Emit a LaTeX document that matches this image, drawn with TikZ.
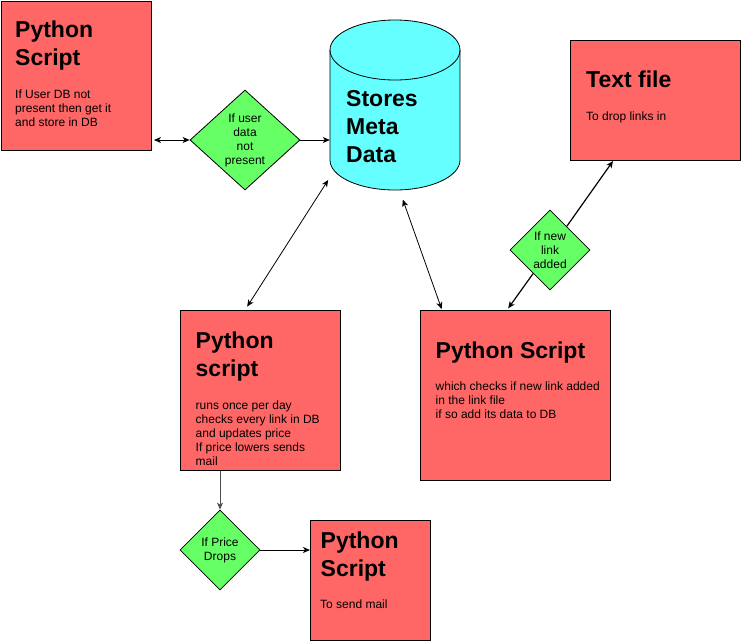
\documentclass[tikz,border=0pt]{standalone}
\usepackage{fontspec}
\setmainfont{Liberation Sans}
\usetikzlibrary{arrows.meta,shapes.geometric,positioning}
\definecolor{boxred}{HTML}{FF6666}
\definecolor{diagreen}{HTML}{66FF66}
\definecolor{dbcyan}{HTML}{66FFFF}
\tikzset{
  script/.style={draw, fill=boxred, line width=1pt, anchor=north west, inner sep=0pt},
  decision/.style={diamond, draw, fill=diagreen, line width=0.8pt, inner sep=0pt, align=center, font=\fontsize{12}{14}\selectfont},
  heading/.style={anchor=north west, inner sep=0pt, align=left, font=\bfseries\fontsize{23}{28}\selectfont},
  note/.style={anchor=north west, inner sep=0pt, align=left, font=\fontsize{12}{14}\selectfont},
  flow/.style={line width=0.8pt, >={Stealth[length=7pt,width=6pt,inset=2pt]}},
  dbend/.style={x radius=65pt, y radius=30pt}
}
\begin{document}
\begin{tikzpicture}[x=1pt,y=-1pt]
\useasboundingbox (0,0) rectangle (741,641);
\node[script, minimum width=150.5pt, minimum height=149.5pt] (pyA) at (0.5,0.5) {};
\node[script, minimum width=170pt, minimum height=120pt] (txt) at (570,40) {};
\node[script, minimum width=160pt, minimum height=160pt] (pyB) at (180,310) {};
\node[script, minimum width=190pt, minimum height=170pt] (pyC) at (420,310) {};
\node[script, minimum width=120pt, minimum height=120pt] (pyD) at (310,520) {};
% meta data store
\node[inner sep=0pt, minimum width=130pt, minimum height=170pt] (db) at (395,105) {};
\draw[fill=dbcyan, line width=0.8pt] (330,50) -- (330,160) arc[start angle=180, end angle=360, dbend] -- (460,50) arc[start angle=0, end angle=180, dbend] -- cycle;
\draw[line width=0.8pt] (330,50) arc[start angle=180, end angle=360, dbend];
\node[decision, minimum width=110pt, minimum height=100pt] (dia1) at (245,140) {If user\\data\\not\\present};
\node[decision, minimum width=80pt, minimum height=80pt] (dia3) at (550,250) {If new\\link\\added};
\node[decision, minimum width=80pt, minimum height=80pt] (dia2) at (220,550) {If Price\\Drops};

\node[heading] (pyAhead) at (15,21) {Python\\Script};
\node[note] (pyAnote) at (15,90) {If User DB not\\present then get it\\and store in DB};
\node[heading] (dbhead) at (346,90.5) {Stores\\Meta\\Data};
\node[heading] (txthead) at (586,70.5) {Text file};
\node[note] (txtnote) at (586,112) {To drop links in};
\node[heading] (pyBhead) at (195.5,331.5) {Python\\script};
\node[note] (pyBnote) at (195.5,400.5) {runs once per day\\checks every link in DB\\and updates price\\If price lowers sends\\mail};
\node[heading] (pyChead) at (435.5,341.5) {Python Script};
\node[note] (pyCnote) at (435.5,382) {which checks if new link added\\in the link file\\if so add its data to DB};
\node[heading] (pyDhead) at (320.5,531.5) {Python\\Script};
\node[note] (pyDnote) at (320,600) {To send mail};

\draw[flow,<->,shorten <=2pt] (dia1.west -| pyA.east) -- (dia1.west);
\draw[flow,->] (dia1.east) -- (dia1.east -| db.west);
\draw[flow,<->,shorten <=3pt,shorten >=4pt] (db.228) -- ([xshift=65pt]pyB.north west);
\draw[flow,<->,shorten <=10pt,shorten >=1pt] (db.273) -- ([xshift=22pt]pyC.north west);
\draw[flow,<-,line width=1.2pt,shorten <=2pt] ([xshift=87pt]pyC.north west) -- (dia3);
\draw[flow,->,line width=1.2pt] (dia3) -- ([xshift=43pt]txt.south west);
\draw[flow,->,draw=black!70,line width=1pt] (dia2.north |- pyB.south) -- (dia2.north);
\draw[flow,->] (dia2.east) -- (dia2.east -| pyD.west);
\end{tikzpicture}
\end{document}
